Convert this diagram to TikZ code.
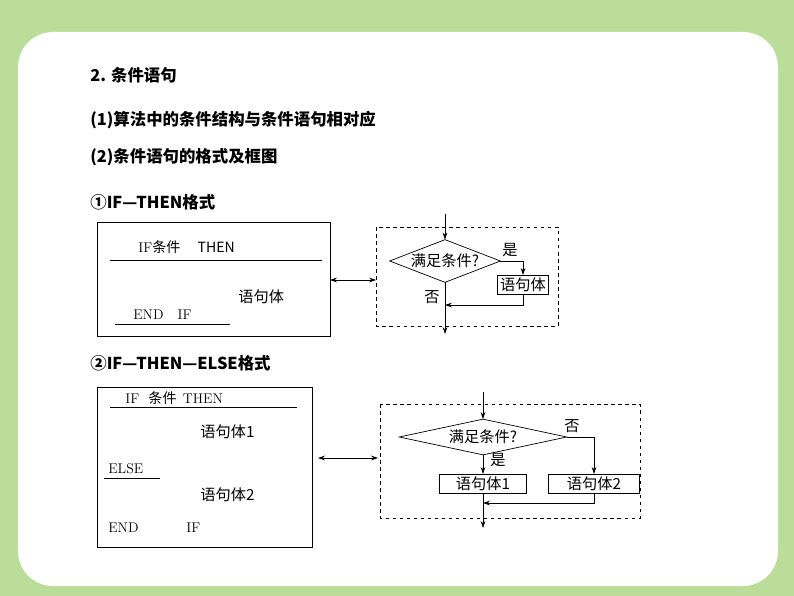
\documentclass[tikz,border=0pt]{standalone}
\usepackage{fontspec}
\newfontfamily\cjk{Noto Sans CJK SC}
\usetikzlibrary{arrows.meta}

\begin{document}
\begin{tikzpicture}[x=0.03cm,y=-0.03cm,>={Stealth[length=6pt,width=4pt]},semithick,
  every node/.style={inner sep=0pt,font=\cjk\fontsize{13}{15}\selectfont},
  head/.style={anchor=west,font=\cjk\bfseries\fontsize{14}{16}\selectfont},
  code/.style={anchor=west,font=\fontsize{12}{14}\selectfont},
  body/.style={anchor=west},
  cond/.style={rectangle,minimum width=3.3cm,minimum height=1.26cm},
  stmt/.style={draw,minimum height=0.58cm,inner xsep=2pt}]
\useasboundingbox (0,0) rectangle (794,596);
\fill[green!35!olive!40] (0,0) rectangle (794,596);
\fill[white,rounded corners=30] (18,32) rectangle (778,586);
% headings
\node[head] (h1) at (90,75) {2. 条件语句};
\node[head] (h2) at (90,120) {(1)算法中的条件结构与条件语句相对应};
\node[head] (h3) at (90,157) {(2)条件语句的格式及框图};
\node[head] (h4) at (90,202) {①IF—THEN格式};
\node[head] (h5) at (90,363) {②IF—THEN—ELSE格式};
% IF-THEN program
\draw (97,222) rectangle (330,336);
\node[code] (t1) at (138,247) {IF\cjk 条件\quad\ THEN};
\draw (110,260) -- (322,260);
\node[body] (t2) at (238,297) {语句体};
\node[code] (t3) at (133,315) {END\quad IF};
\draw (115,324) -- (230,324);
\coordinate (la) at (330,280);
\coordinate (ra) at (376,280);
\draw[<->] (la) -- (ra);
% IF-THEN flowchart
\draw[dashed,thick] (376,227) rectangle (558,326);
\node[cond] (d1) at (445,261) {满足条件?};
\draw (d1.north) -- (d1.east) -- (d1.south) -- (d1.west) -- cycle;
\node[stmt] (s1) at (523,285) {语句体};
\coordinate (in1) at (445,214);
\coordinate (out1) at (445,334);
\coordinate (m1) at (445,305);
\draw[->] (in1) -- (d1.north);
\draw[->] (d1.east) -| (s1.north);
\draw[->] (s1.south) |- (m1);
\draw[->] (d1.south) -- (out1);
\node (y1) at (510,250) {是};
\node (n1) at (432,297) {否};
% IF-THEN-ELSE program
\draw (97,387) rectangle (312,547);
\node[code] (e1) at (125,398) {IF\ \ \cjk 条件\ \ \rmfamily THEN};
\draw (110,407) -- (297,407);
\node[body] (e2) at (200,432) {语句体1};
\node[code] (e3) at (108,469) {ELSE};
\draw (104,478) -- (160,478);
\node[body] (e4) at (200,495) {语句体2};
\node[code] (e5) at (108,528) {END};
\node[code] (e6) at (186,528) {IF};
\coordinate (lb) at (318,458);
\coordinate (rb) at (378,458);
\draw[<->] (lb) -- (rb);
% IF-THEN-ELSE flowchart
\draw[dashed,thick] (380,404) rectangle (640,518);
\node[cond,minimum width=5cm,minimum height=1.05cm] (d2) at (483,437) {满足条件?};
\draw (d2.north) -- (d2.east) -- (d2.south) -- (d2.west) -- cycle;
\node[stmt,minimum width=2.6cm] (s2) at (483,484) {语句体1};
\node[stmt,minimum width=2.75cm] (s3) at (594,484) {语句体2};
\coordinate (in2) at (483,392);
\coordinate (out2) at (483,528);
\coordinate (m2) at (483,503);
\draw[->] (in2) -- (d2.north);
\draw[->] (d2.south) -- (s2.north);
\draw[->] (d2.east) -| (s3.north);
\draw[->] (s3.south) |- (m2);
\draw[->] (s2.south) -- (out2);
\node (y2) at (498,460) {是};
\node (n2) at (572,426) {否};
\end{tikzpicture}
\end{document}
